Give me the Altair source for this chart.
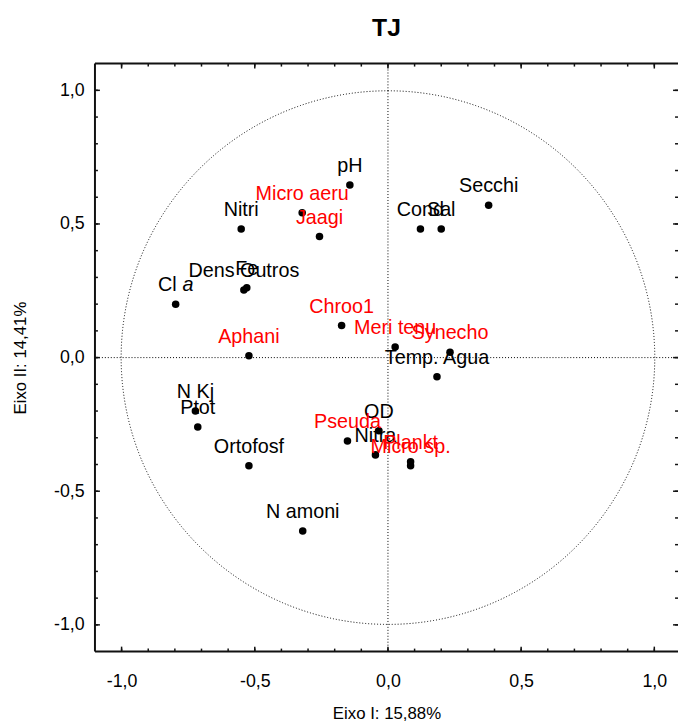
import altair as alt
import pandas as pd

# ---- data ----
names = ["pH", "Micro aeru", "Jaagi", "Nitri", "Secchi", "Cond", "Sal", "Cl a",
         "Dens Outros", "Fe", "Chroo1", "Aphani", "Meri tenu", "Synecho",
         "Temp. Agua", "N Kj", "Ptot", "Ortofosf", "N amoni", "OD", "Pseuda",
         "Nitra", "Plankt", "Micro sp."]
xs = [-0.143, -0.322, -0.257, -0.551, 0.378, 0.122, 0.200, -0.797,
      -0.541, -0.530, -0.174, -0.522, 0.027, 0.233,
      0.184, -0.723, -0.714, -0.522, -0.320, -0.034, -0.152,
      -0.047, 0.085, 0.085]
ys = [0.646, 0.542, 0.453, 0.481, 0.570, 0.481, 0.481, 0.200,
      0.253, 0.261, 0.120, 0.007, 0.040, 0.020,
      -0.072, -0.200, -0.260, -0.405, -0.649, -0.274, -0.312,
      -0.364, -0.390, -0.405]
groups = ["env", "sp", "sp", "env", "env", "env", "env", "env",
          "env", "env", "sp", "sp", "sp", "sp",
          "env", "env", "env", "env", "env", "env", "sp",
          "env", "sp", "sp"]

tick_labels = [-1.0, -0.5, 0.0, 0.5, 1.0]
minor_ticks = [round(-1.0 + 0.1 * i, 1) for i in range(21)]
major_ticks = tick_labels

title = "TJ"
x_title = "Eixo I: 15,88%"
y_title = "Eixo II: 14,41%"

W, H = 590, 595
FONT = "Liberation Sans"
LBL = 20
DY = -13

df = pd.DataFrame({"name": names, "x": xs, "y": ys, "grp": groups})
df_plain = df[df["name"] != "Cl a"]
df_cla = df[df["name"] == "Cl a"]

xscale = alt.Scale(domain=[-1.1, 1.0889], nice=False, zero=False)
yscale = alt.Scale(domain=[-1.1, 1.1], nice=False, zero=False)
lab_expr = "(datum.value < 0 ? '-' : '') + replace(format(abs(datum.value), '.1f'), '.', ',')"
common_axis = dict(values=tick_labels, labelExpr=lab_expr, labelFontSize=18,
                   titleFontSize=17, titleFontWeight="normal", grid=False,
                   ticks=False, domain=False, labelFont=FONT, titleFont=FONT,
                   labelColor="black", titleColor="black")
xaxis = alt.Axis(labelPadding=21, titlePadding=16, **common_axis)
yaxis = alt.Axis(labelPadding=11, titlePadding=24, **common_axis)


def X(f):
    return alt.X(f, type="quantitative", scale=xscale, axis=xaxis, title=x_title)


def Y(f):
    return alt.Y(f, type="quantitative", scale=yscale, axis=yaxis, title=y_title)


zero_df = pd.DataFrame({"v": [0.0]})
dotted = dict(color="black", strokeDash=[1, 2], strokeWidth=1)

vline = alt.Chart(zero_df).mark_rule(**dotted).encode(x=X("v"))
hline = alt.Chart(zero_df).mark_rule(**dotted).encode(y=Y("v"))
circle = alt.Chart(zero_df).mark_arc(
    radius=270, theta=0, theta2=6.2832, filled=False, stroke="black",
    strokeDash=[1, 2], strokeWidth=1, fill="transparent"
).encode(x=X("v"), y=Y("v"))

points = alt.Chart(df).mark_circle(size=58, color="black", opacity=1).encode(
    x=X("x"), y=Y("y"))
labels = alt.Chart(df_plain).mark_text(
    dy=DY, baseline="alphabetic", align="center", fontSize=LBL, font=FONT
).encode(
    x=X("x"), y=Y("y"), text="name:N",
    color=alt.Color("grp:N", scale=alt.Scale(domain=["env", "sp"], range=["black", "#ff0000"]),
                    legend=None))
# "Cl a" with an italic "a"
cla_1 = alt.Chart(df_cla).mark_text(
    dy=DY, dx=1, baseline="alphabetic", align="right", fontSize=LBL, font=FONT,
    color="black", text="Cl").encode(x=X("x"), y=Y("y"))
cla_2 = alt.Chart(df_cla).mark_text(
    dy=DY, dx=7, baseline="alphabetic", align="left", fontSize=LBL, font=FONT,
    fontStyle="italic", color="black", text="a").encode(x=X("x"), y=Y("y"))

frame_df = pd.DataFrame({"a": [0]})
fr = dict(color="#111", strokeWidth=2)
frame_left = alt.Chart(frame_df).mark_rule(**fr).encode(
    x=alt.value(0), y=alt.value(0), y2=alt.value(H))
frame_top = alt.Chart(frame_df).mark_rule(**fr).encode(
    x=alt.value(0), x2=alt.value(W), y=alt.value(0))
frame_bot = alt.Chart(frame_df).mark_rule(**fr).encode(
    x=alt.value(0), x2=alt.value(W), y=alt.value(H))

tick_layers = []
for vals, ln in ((minor_ticks, 3), (major_ticks, 5)):
    tdf = pd.DataFrame({"v": vals})
    tk = dict(color="#111", strokeWidth=1.5)
    tick_layers.append(alt.Chart(tdf).mark_rule(**tk).encode(
        x=X("v"), y=alt.value(H), y2=alt.value(H - ln)))
    tick_layers.append(alt.Chart(tdf).mark_rule(**tk).encode(
        x=X("v"), y=alt.value(0), y2=alt.value(ln)))
    tick_layers.append(alt.Chart(tdf).mark_rule(**tk).encode(
        y=Y("v"), x=alt.value(0), x2=alt.value(ln)))
    tick_layers.append(alt.Chart(tdf).mark_rule(**tk).encode(
        y=Y("v"), x=alt.value(W), x2=alt.value(W - ln)))

chart = alt.layer(
    vline, hline, circle, *tick_layers, frame_left, frame_top, frame_bot,
    points, labels, cla_1, cla_2
).properties(
    width=W, height=H, background="white",
    title=alt.TitleParams(title, fontSize=25, font=FONT, fontWeight="bold",
                          anchor="middle", offset=22, color="black"),
    autosize=alt.AutoSizeParams(type="none"),
    padding={"left": 88, "top": 52, "right": 0, "bottom": 68},
).configure_view(stroke=None)

chart.save("out.html", embed_options={"renderer": "svg", "actions": False})
